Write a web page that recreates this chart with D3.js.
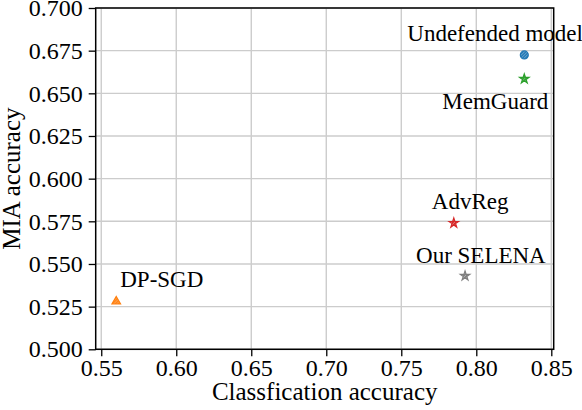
<!DOCTYPE html>
<html>
<head>
<meta charset="utf-8">
<script src="https://cdn.jsdelivr.net/npm/d3@7"></script>
<style>
  body { margin: 0; background: #fff; }
  svg { display: block; }
</style>
</head>
<body>
<svg id="chart" width="582" height="410"></svg>
<script>
// data
var methods = ["Undefended model", "MemGuard", "AdvReg", "Our SELENA", "DP-SGD"];
var classAcc = [0.832, 0.832, 0.785, 0.7925, 0.560];
var miaAcc = [0.6725, 0.6585, 0.574, 0.543, 0.528];
var markers = ["circle", "star", "star", "star", "triangle"];
var xTicks = [0.55, 0.60, 0.65, 0.70, 0.75, 0.80, 0.85];
var yTicks = [0.500, 0.525, 0.550, 0.575, 0.600, 0.625, 0.650, 0.675, 0.700];

var colors = ["#1f77b4", "#2ca02c", "#d62728", "#7f7f7f", "#ff7f0e"];
// label placement, pixel offsets from the marker (dx = left edge, dy = baseline)
var labelOff = [[-117, -14], [-82, 30.5], [-22, -14], [-49, -13], [4, -14.5]];
var serif = "'Liberation Serif', 'Times New Roman', Times, serif";

var W = 582, H = 410;
var margin = {left: 95.7, right: 28.3, top: 8, bottom: 60.7};

var svg = d3.select("#chart");

var x = d3.scaleLinear().domain([0.5463, 0.8516]).range([margin.left, W - margin.right]);
var y = d3.scaleLinear().domain([0.5, 0.7]).range([H - margin.bottom, margin.top]);

// grid
var grid = svg.append("g");
grid.selectAll(".gx").data(xTicks).enter().append("line")
    .attr("x1", function (d) { return x(d); }).attr("x2", function (d) { return x(d); })
    .attr("y1", y(0.5)).attr("y2", y(0.7))
    .attr("stroke", "#cccccc").attr("stroke-width", 1.4);
grid.selectAll(".gy").data(yTicks).enter().append("line")
    .attr("y1", function (d) { return y(d); }).attr("y2", function (d) { return y(d); })
    .attr("x1", x.range()[0]).attr("x2", x.range()[1])
    .attr("stroke", "#cccccc").attr("stroke-width", 1.4);

// hatched fills for the markers
var defs = svg.append("defs");
colors.forEach(function (c, i) {
    var p = defs.append("pattern").attr("id", "hatch" + i)
        .attr("patternUnits", "userSpaceOnUse").attr("width", 3).attr("height", 3);
    p.append("rect").attr("width", 3).attr("height", 3).attr("fill", c);
    p.append("path").attr("d", "M0,3 L3,0").attr("stroke", "#fff").attr("stroke-opacity", 0.5).attr("stroke-width", 0.8);
});

var symbolType = {circle: d3.symbolCircle, star: d3.symbolStar, triangle: d3.symbolTriangle};
var symbolSize = {circle: 50, star: 28, triangle: 32};

svg.append("g").selectAll("path").data(methods).enter().append("path")
    .attr("transform", function (d, i) { return "translate(" + x(classAcc[i]) + "," + y(miaAcc[i]) + ")"; })
    .attr("d", function (d, i) { return d3.symbol().type(symbolType[markers[i]]).size(symbolSize[markers[i]])(); })
    .attr("fill", function (d, i) { return "url(#hatch" + i + ")"; })
    .attr("stroke", function (d, i) { return colors[i]; })
    .attr("stroke-width", 1.2);

svg.append("g").selectAll("text").data(methods).enter().append("text")
    .attr("x", function (d, i) { return x(classAcc[i]) + labelOff[i][0]; })
    .attr("y", function (d, i) { return y(miaAcc[i]) + labelOff[i][1]; })
    .style("font-family", serif).style("font-size", "23px")
    .text(function (d) { return d; });

// axes
var xAxis = svg.append("g").attr("transform", "translate(0," + y(0.5) + ")")
    .call(d3.axisBottom(x).tickValues(xTicks).tickFormat(d3.format(".2f")).tickSize(7).tickSizeOuter(0).tickPadding(3));
var yAxis = svg.append("g").attr("transform", "translate(" + x.range()[0] + ",0)")
    .call(d3.axisLeft(y).tickValues(yTicks).tickFormat(d3.format(".3f")).tickSize(7).tickSizeOuter(0).tickPadding(6));
[xAxis, yAxis].forEach(function (a) {
    a.attr("font-family", serif);
    a.selectAll("text").style("font-family", serif).style("font-size", "24px").attr("fill", "#000");
    a.selectAll(".tick line").attr("stroke", "#000").attr("stroke-width", 1.3);
    a.select(".domain").remove();
});

// frame
svg.append("rect")
    .attr("x", x.range()[0]).attr("y", y(0.7))
    .attr("width", x.range()[1] - x.range()[0]).attr("height", y(0.5) - y(0.7))
    .attr("fill", "none").attr("stroke", "#000").attr("stroke-width", 1.5);

svg.append("text")
    .attr("x", (x.range()[0] + x.range()[1]) / 2).attr("y", 400)
    .attr("text-anchor", "middle")
    .style("font-family", serif).style("font-size", "25px")
    .text("Classfication accuracy");
svg.append("text")
    .attr("transform", "translate(20," + (y(0.5) + y(0.7)) / 2 + ") rotate(-90)")
    .attr("text-anchor", "middle")
    .style("font-family", serif).style("font-size", "25px")
    .text("MIA accuracy");
</script>
</body>
</html>
